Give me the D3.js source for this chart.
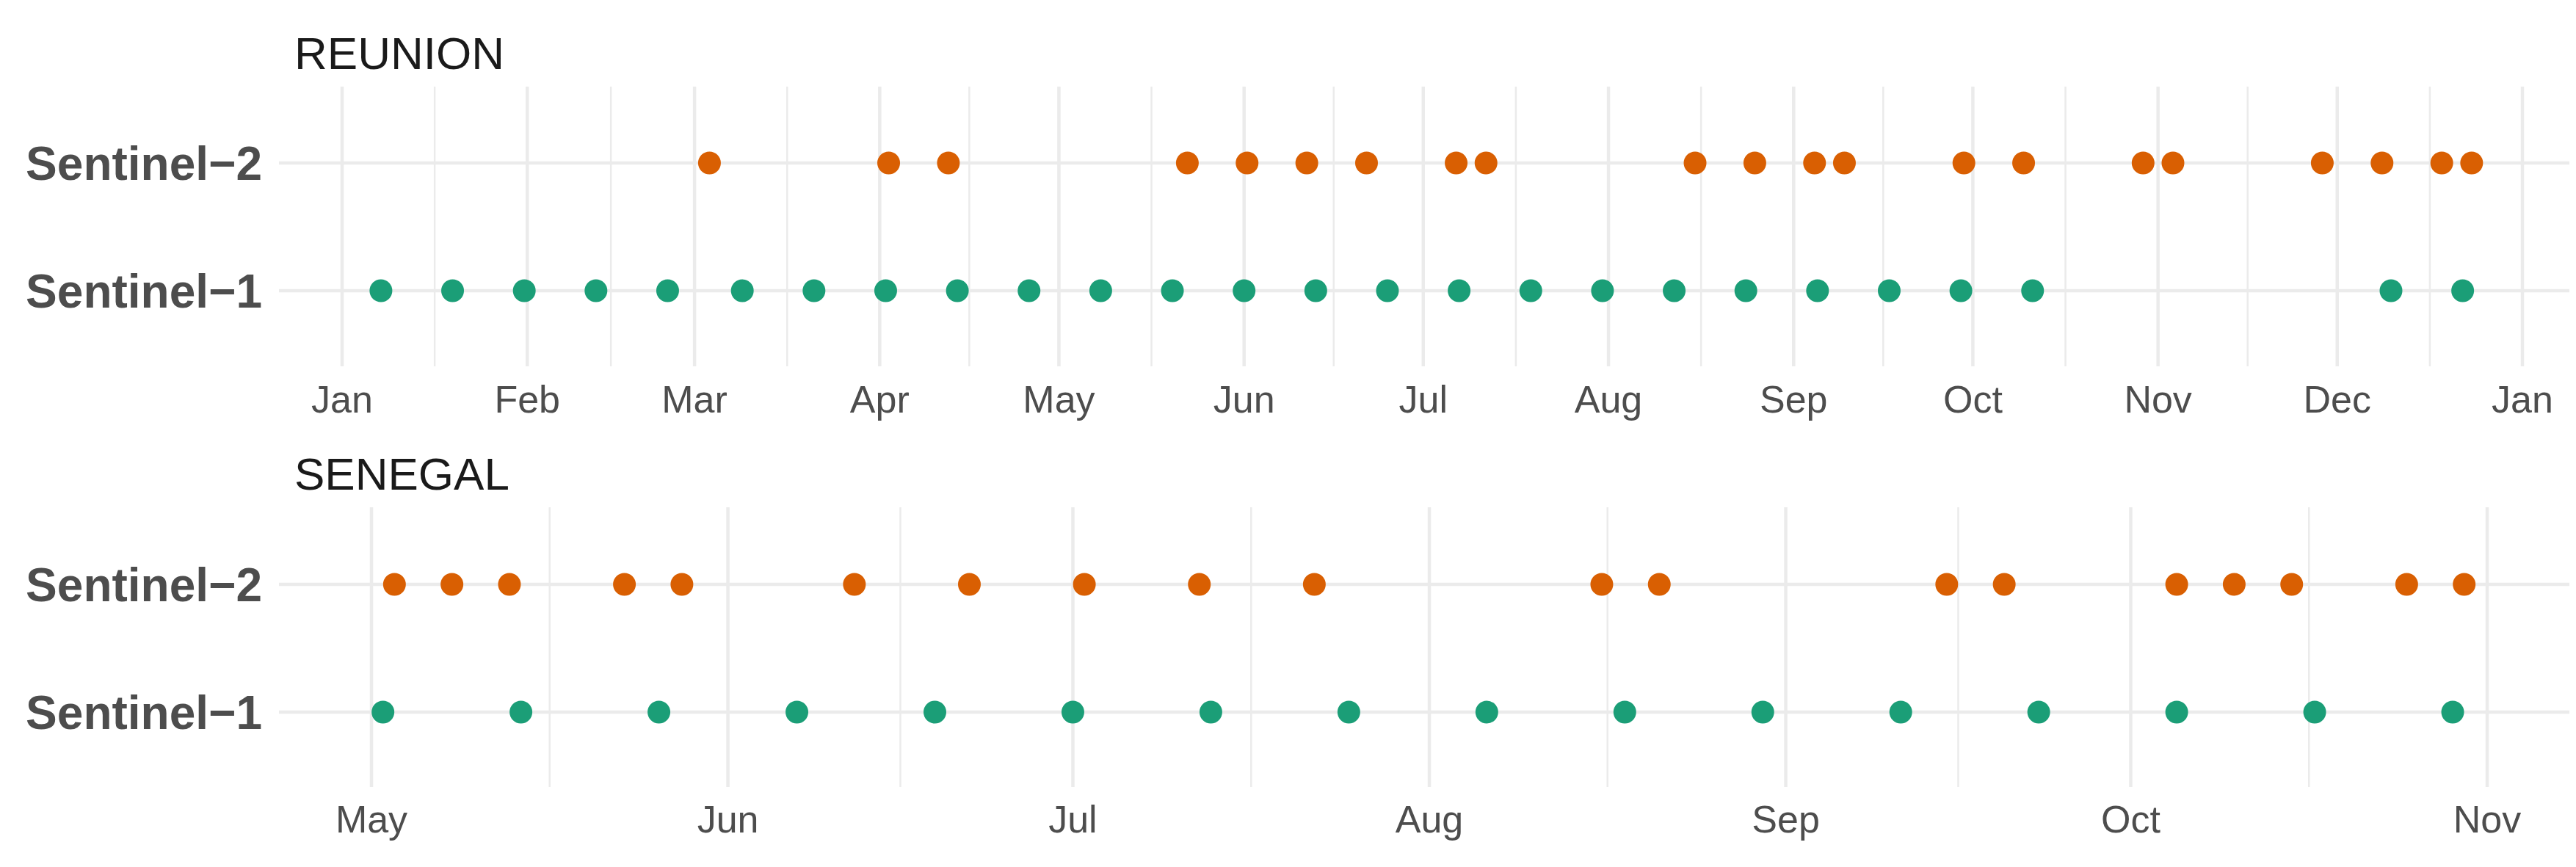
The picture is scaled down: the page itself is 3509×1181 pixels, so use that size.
<!DOCTYPE html>
<html><head><meta charset="utf-8">
<script src="https://cdn.jsdelivr.net/npm/d3@7"></script>
<style>body{margin:0;background:#fff}</style></head>
<body><svg id="c" width="3509" height="1181"></svg>
<script>
const sensors = ["Sentinel-1", "Sentinel-2"];
// day offsets (days after start date)
const reunionS1 = [6.5,18.5,30.5,42.5,54.5,67,79,91,103,115,127,139,151,163,175,187,199,211,223,235,247,259,271,283,343,355];
const reunionS2 = [61.5,91.5,101.5,141.5,151.5,161.5,171.5,186.5,191.5,226.5,236.5,246.5,251.5,271.5,281.5,301.5,306.5,331.5,341.5,351.5,356.5];
const senegalS1 = [1,13,25,37,49,61,73,85,97,109,121,133,145,157,169,181];
const senegalS2 = [2,7,12,22,27,42,52,62,72,82,107,112,137,142,157,162,167,177,182];
const reunionTicks = ["Jan","Feb","Mar","Apr","May","Jun","Jul","Aug","Sep","Oct","Nov","Dec","Jan"];
const senegalTicks = ["May","Jun","Jul","Aug","Sep","Oct","Nov"];
const colors = {"Sentinel-1":"#1b9e77","Sentinel-2":"#d95f02"};

const svg = d3.select("#c");
const day = (start, d) => d3.timeHour.offset(start, Math.round(d*24));

function panel(p) {
  const g = svg.append("g");
  const x = d3.scaleTime().domain([p.start, p.end]).range(p.xr);
  const y = d3.scalePoint().domain(sensors).range([p.y1, p.y2]);
  const majors = d3.timeMonth.range(p.start, d3.timeDay.offset(p.end, 1));
  // minor grid
  for (let i = 0; i < majors.length - 1; i++) {
    const m = (x(majors[i]) + x(majors[i+1])) / 2;
    g.append("line").attr("x1", m).attr("x2", m).attr("y1", p.top).attr("y2", p.bot)
      .attr("stroke", "#ebebeb").attr("stroke-width", 2.5);
  }
  majors.forEach(d => g.append("line").attr("x1", x(d)).attr("x2", x(d)).attr("y1", p.top).attr("y2", p.bot)
    .attr("stroke", "#ebebeb").attr("stroke-width", 4.5));
  sensors.forEach(s => g.append("line").attr("x1", 380).attr("x2", 3500).attr("y1", y(s)).attr("y2", y(s))
    .attr("stroke", "#ebebeb").attr("stroke-width", 4.5));
  // tick labels
  majors.forEach((d, i) => g.append("text").attr("x", x(d)).attr("y", p.labY)
    .attr("text-anchor", "middle").attr("font-family", "Liberation Sans, Arial").attr("font-size", 52)
    .attr("fill", "#4d4d4d").text(p.ticks[i]));
  sensors.forEach(s => g.append("text").attr("x", 357).attr("y", y(s) + 23)
    .attr("text-anchor", "end").attr("font-family", "Liberation Sans, Arial").attr("font-weight", "bold")
    .attr("font-size", 64).attr("fill", "#4d4d4d").text(s.replace("-", "\u2212")));
  g.append("text").attr("x", 401).attr("y", p.titleY).attr("font-family", "Liberation Sans, Arial")
    .attr("font-size", 62).attr("fill", "#1a1a1a").text(p.title);
  [["Sentinel-1", p.s1], ["Sentinel-2", p.s2]].forEach(([s, arr]) => {
    g.selectAll(null).data(arr).enter().append("circle")
      .attr("cx", d => x(day(p.start, d))).attr("cy", y(s)).attr("r", 15.5).attr("fill", colors[s]);
  });
}

panel({title: "REUNION", start: new Date(2018,0,1), end: new Date(2019,0,1), xr: [466, 3436],
  y1: 396, y2: 222, top: 118, bot: 499, labY: 562, titleY: 94, ticks: reunionTicks, s1: reunionS1, s2: reunionS2});
panel({title: "SENEGAL", start: new Date(2018,4,1), end: new Date(2018,10,1), xr: [506, 3388],
  y1: 970, y2: 796, top: 691, bot: 1072, labY: 1134, titleY: 667, ticks: senegalTicks, s1: senegalS1, s2: senegalS2});
</script></body></html>
